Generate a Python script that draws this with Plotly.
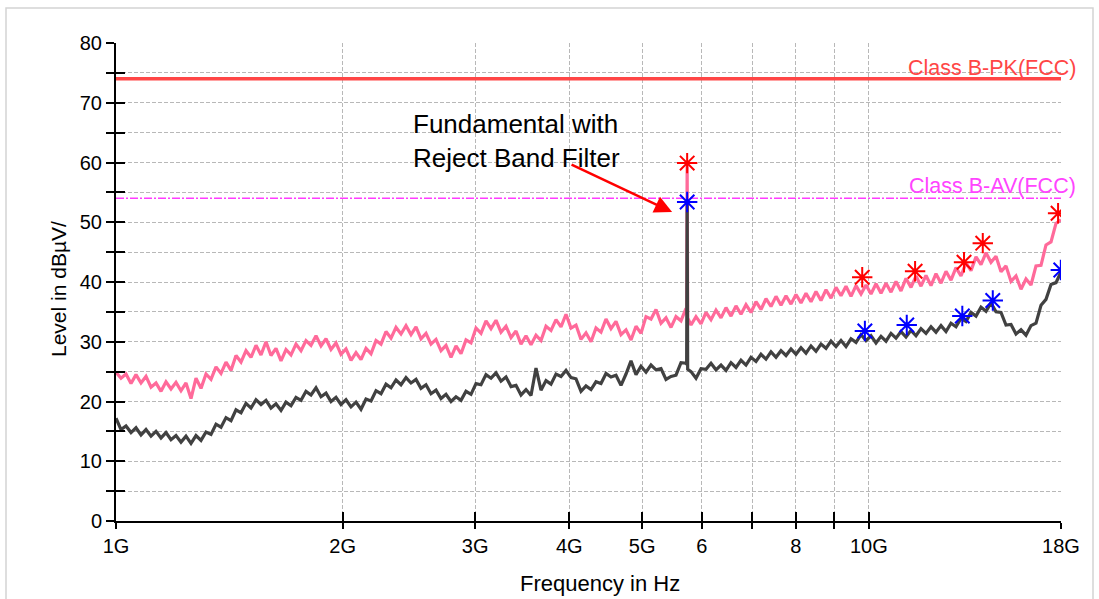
import numpy as np
import plotly.graph_objects as go

# ---------------- data ----------------
F_START_GHZ, F_STOP_GHZ = 1.0, 18.0   # receiver sweep, log-spaced sweep points

# Peak trace (pink), one value per sweep point
pk_level = [
    24.9, 23.9, 24.6, 23.0, 24.5, 23.1, 24.2, 22.4, 23.1, 21.7,
    23.3, 22.1, 23.2, 21.8, 23.1, 20.5, 23.9, 22.2, 24.6, 23.7,
    25.8, 24.7, 26.6, 25.2, 27.7, 26.6, 28.5, 27.4, 29.4, 27.8,
    30.0, 27.7, 28.9, 26.8, 28.7, 27.8, 29.6, 28.5, 30.2, 29.4,
    31.0, 29.3, 30.5, 28.7, 29.8, 27.9, 28.8, 26.9, 28.2, 27.0,
    28.9, 28.0, 30.2, 29.6, 31.7, 30.6, 32.4, 31.3, 32.7, 31.2,
    32.5, 30.5, 31.4, 29.6, 30.4, 28.5, 29.4, 27.4, 29.3, 28.0,
    30.3, 29.8, 32.3, 31.4, 33.5, 32.2, 33.6, 31.6, 32.6, 30.7,
    31.8, 29.6, 31.0, 29.5, 31.1, 30.2, 32.6, 31.9, 33.7, 32.5,
    34.6, 32.3, 32.8, 30.4, 31.5, 30.0, 32.3, 31.6, 33.8, 32.2,
    33.4, 31.2, 32.0, 30.3, 32.6, 31.4, 34.2, 33.8, 35.4, 33.1,
    34.0, 32.4, 34.2, 33.5, 35.6, 32.8, 34.2, 33.0, 34.9, 33.7,
    35.3, 34.0, 35.7, 34.3, 36.0, 34.6, 36.2, 34.9, 36.7, 35.4,
    37.2, 35.9, 37.6, 36.1, 37.7, 36.3, 37.9, 36.5, 38.1, 36.7,
    38.4, 36.9, 38.7, 37.3, 39.1, 37.7, 39.3, 37.6, 39.4, 38.0,
    39.5, 38.0, 39.7, 38.1, 39.8, 38.3, 40.1, 38.5, 40.6, 39.1,
    41.0, 39.3, 41.1, 39.4, 41.4, 39.8, 41.8, 40.3, 42.4, 41.0,
    43.2, 41.9, 44.2, 42.9, 44.9, 43.3, 44.3, 41.7, 42.7, 40.1,
    41.0, 38.8, 40.5, 39.5, 42.7, 42.8, 46.2, 46.7, 49.8, 50.4,
]

# Average trace (dark grey), one value per sweep point
av_level = [
    17.2, 15.3, 15.9, 14.8, 15.6, 14.4, 15.3, 14.2, 15.0, 13.9,
    14.8, 13.6, 14.3, 13.2, 14.2, 13.0, 14.3, 13.5, 14.9, 14.5,
    16.2, 15.7, 17.3, 16.8, 18.6, 18.1, 19.7, 18.9, 20.3, 19.5,
    20.2, 18.9, 19.6, 18.5, 19.9, 19.3, 20.7, 20.2, 21.7, 21.1,
    22.3, 20.8, 21.4, 20.0, 20.7, 19.5, 20.3, 19.1, 19.9, 18.7,
    20.4, 20.1, 21.8, 21.3, 22.9, 22.3, 23.6, 22.8, 24.0, 23.1,
    23.7, 22.2, 22.8, 21.3, 21.9, 20.5, 21.2, 20.0, 20.8, 20.2,
    21.7, 21.2, 23.0, 22.8, 24.5, 23.9, 24.8, 23.4, 24.1, 22.5,
    22.7, 21.1, 22.0, 21.0, 25.6, 21.9, 23.5, 22.9, 24.6, 24.2,
    25.2, 24.0, 23.8, 21.7, 22.6, 22.0, 23.3, 23.0, 24.7, 24.1,
    24.4, 22.7, 24.6, 26.8, 24.5, 25.9, 24.9, 26.1, 25.3, 25.5,
    23.7, 24.2, 24.4, 26.5, 26.4, 25.0, 23.9, 25.5, 25.4, 26.4,
    25.3, 26.1, 25.2, 26.5, 25.7, 26.9, 26.1, 27.4, 26.7, 27.9,
    27.1, 28.3, 27.4, 28.5, 27.7, 28.8, 27.9, 29.0, 28.1, 29.3,
    28.4, 29.6, 28.9, 30.1, 29.2, 30.2, 29.2, 30.5, 29.9, 31.2,
    30.2, 31.0, 29.8, 30.9, 30.1, 31.4, 30.6, 31.7, 30.8, 31.9,
    31.0, 32.2, 31.4, 32.5, 31.6, 32.7, 31.7, 33.1, 32.5, 33.9,
    33.4, 34.9, 34.3, 35.8, 35.1, 36.5, 35.0, 34.9, 32.8, 32.9,
    31.3, 32.0, 31.1, 32.7, 33.1, 36.1, 37.1, 39.6, 39.9, 41.7,
]

# Fundamental (reject-band filter) spike
spike_freq_ghz = [5.728, 5.737, 5.746]
pk_spike = [34.6, 59.9, 34.0]
av_spike = [26.2, 53.4, 25.4]

# Final-measurement markers
pk_marker_freq = [5.737, 9.80, 11.52, 13.38, 14.17, 17.84]
pk_marker_level = [59.9, 40.8, 41.8, 43.3, 46.5, 51.5]
av_marker_freq = [5.737, 9.88, 11.23, 13.31, 14.61, 17.99]
av_marker_level = [53.4, 31.8, 32.8, 34.3, 36.9, 42.0]

# Limits
limit_pk = 74.0
limit_av = 54.0
limit_pk_name = "Class B-PK(FCC)"
limit_av_name = "Class B-AV(FCC)"

# Axes
x_tick_vals = [1, 2, 3, 4, 5, 6, 7, 8, 9, 10, 18]
x_tick_text = ["1G", "2G", "3G", "4G", "5G", "6", "", "8", "", "10G", "18G"]
y_tick_vals = list(range(0, 85, 5))
y_tick_text = [str(v) if v % 10 == 0 else "" for v in y_tick_vals]

# Annotation
note_text = "Fundamental with<br>Reject Band Filter"
note_pos = (2.465, 63.6)
arrow_tail = (4.01, 59.75)
arrow_tip = (5.479, 51.7)


def build_trace(levels, spike):
    f = np.geomspace(F_START_GHZ, F_STOP_GHZ, len(levels))
    ff = np.concatenate([f, spike_freq_ghz])
    ll = np.concatenate([levels, spike])
    order = np.argsort(ff, kind="stable")
    return ff[order], ll[order]


pk_f, pk_l = build_trace(pk_level, pk_spike)
av_f, av_l = build_trace(av_level, av_spike)

PINK = "#ff6a9a"
DARK = "#414141"
FONT = "Liberation Sans, Arial, sans-serif"

fig = go.Figure()

fig.add_trace(go.Scatter(x=[F_START_GHZ, F_STOP_GHZ], y=[limit_pk, limit_pk], mode="lines",
                         line=dict(color="#ff4646", width=3.5), hoverinfo="skip"))
fig.add_trace(go.Scatter(x=[F_START_GHZ, F_STOP_GHZ], y=[limit_av, limit_av], mode="lines",
                         line=dict(color="#ff3cff", width=1.5, dash="8px,2px,2px,2px"), hoverinfo="skip"))
fig.add_trace(go.Scatter(x=pk_f, y=pk_l, mode="lines", line=dict(color=PINK, width=3.2)))
fig.add_trace(go.Scatter(x=av_f, y=av_l, mode="lines", line=dict(color=DARK, width=3.2)))
fig.add_trace(go.Scatter(x=pk_marker_freq, y=pk_marker_level, mode="markers",
                         marker=dict(symbol="asterisk-open", size=17, color="#ff0000",
                                     line=dict(color="#ff0000", width=2))))
fig.add_trace(go.Scatter(x=av_marker_freq, y=av_marker_level, mode="markers",
                         marker=dict(symbol="asterisk-open", size=17, color="#0000ff",
                                     line=dict(color="#0000ff", width=2))))
# carrier for the overlaid tick axes (crossing tick marks)
fig.add_trace(go.Scatter(x=[F_START_GHZ], y=[0], mode="markers", marker=dict(opacity=0),
                         xaxis="x2", yaxis="y2", hoverinfo="skip"))

x_range = [np.log10(F_START_GHZ), np.log10(F_STOP_GHZ)]

common_x = dict(type="log", range=x_range, tickvals=x_tick_vals, ticktext=x_tick_text,
                tickcolor="black", tickwidth=1.5, zeroline=False)
common_y = dict(range=[0, 80], tickvals=y_tick_vals, ticktext=y_tick_text,
                tickcolor="black", tickwidth=1.5, zeroline=False)

fig.update_layout(
    width=1099, height=599,
    margin=dict(l=116, r=38, t=43, b=78),
    paper_bgcolor="white", plot_bgcolor="white",
    showlegend=False,
    font=dict(family=FONT, color="black"),
    xaxis=dict(**common_x, ticks="outside", ticklen=6, showline=True, linecolor="black",
               linewidth=2, showgrid=True, gridcolor="#b8b8b8", griddash="4px,2px",
               gridwidth=1, tickfont=dict(size=20, family=FONT)),
    yaxis=dict(**common_y, ticks="outside", ticklen=8, showline=True, linecolor="black",
               linewidth=2, showgrid=True, gridcolor="#b8b8b8", griddash="4px,2px",
               gridwidth=1, tickfont=dict(size=20, family=FONT)),
    xaxis2=dict(**common_x, overlaying="x", anchor="y2", ticks="inside", ticklen=9,
                showticklabels=False, showgrid=False, showline=False),
    yaxis2=dict(**common_y, overlaying="y", anchor="x2", ticks="inside", ticklen=9,
                showticklabels=False, showgrid=False, showline=False),
)

annotations = [
    dict(text="Frequency in Hz", xref="paper", yref="paper", x=(599.5 - 116) / 945,
         y=(521 - 583) / 478, xanchor="center", yanchor="middle", showarrow=False,
         font=dict(size=22, family=FONT, color="black")),
    dict(text="Level in dBµV/", xref="paper", yref="paper", x=(58 - 116) / 945,
         y=(521 - 289) / 478, xanchor="center", yanchor="middle", showarrow=False,
         textangle=-90, font=dict(size=21, family=FONT, color="black")),
    dict(text=limit_pk_name, xref="paper", yref="y", x=(1078 - 116) / 945, y=75.8,
         xanchor="right", yanchor="middle", showarrow=False,
         font=dict(size=21.5, family=FONT, color="#ff4646")),
    dict(text=limit_av_name, xref="paper", yref="y", x=(1078 - 116) / 945, y=56.0,
         xanchor="right", yanchor="middle", showarrow=False,
         font=dict(size=21.5, family=FONT, color="#ff44ff")),
    dict(text=note_text, xref="x", yref="y", x=np.log10(note_pos[0]), y=note_pos[1],
         xanchor="left", yanchor="middle", align="left", showarrow=False,
         font=dict(size=26, family=FONT, color="black")),
    dict(text="", xref="x", yref="y", x=np.log10(arrow_tip[0]), y=arrow_tip[1],
         axref="x", ayref="y", ax=np.log10(arrow_tail[0]), ay=arrow_tail[1],
         showarrow=True, arrowhead=2, arrowsize=1.4, arrowwidth=2.5, arrowcolor="#ff0000"),
]
fig.update_layout(annotations=annotations)

# light outer frame of the picture
fig.add_shape(type="rect", xref="paper", yref="paper",
              x0=(6 - 116) / 945, x1=(1093 - 116) / 945,
              y0=(521 - 610) / 478, y1=(521 - 8) / 478,
              line=dict(color="#d4d4d4", width=1.5), fillcolor="rgba(0,0,0,0)", layer="below")

fig.write_html("out.html")
